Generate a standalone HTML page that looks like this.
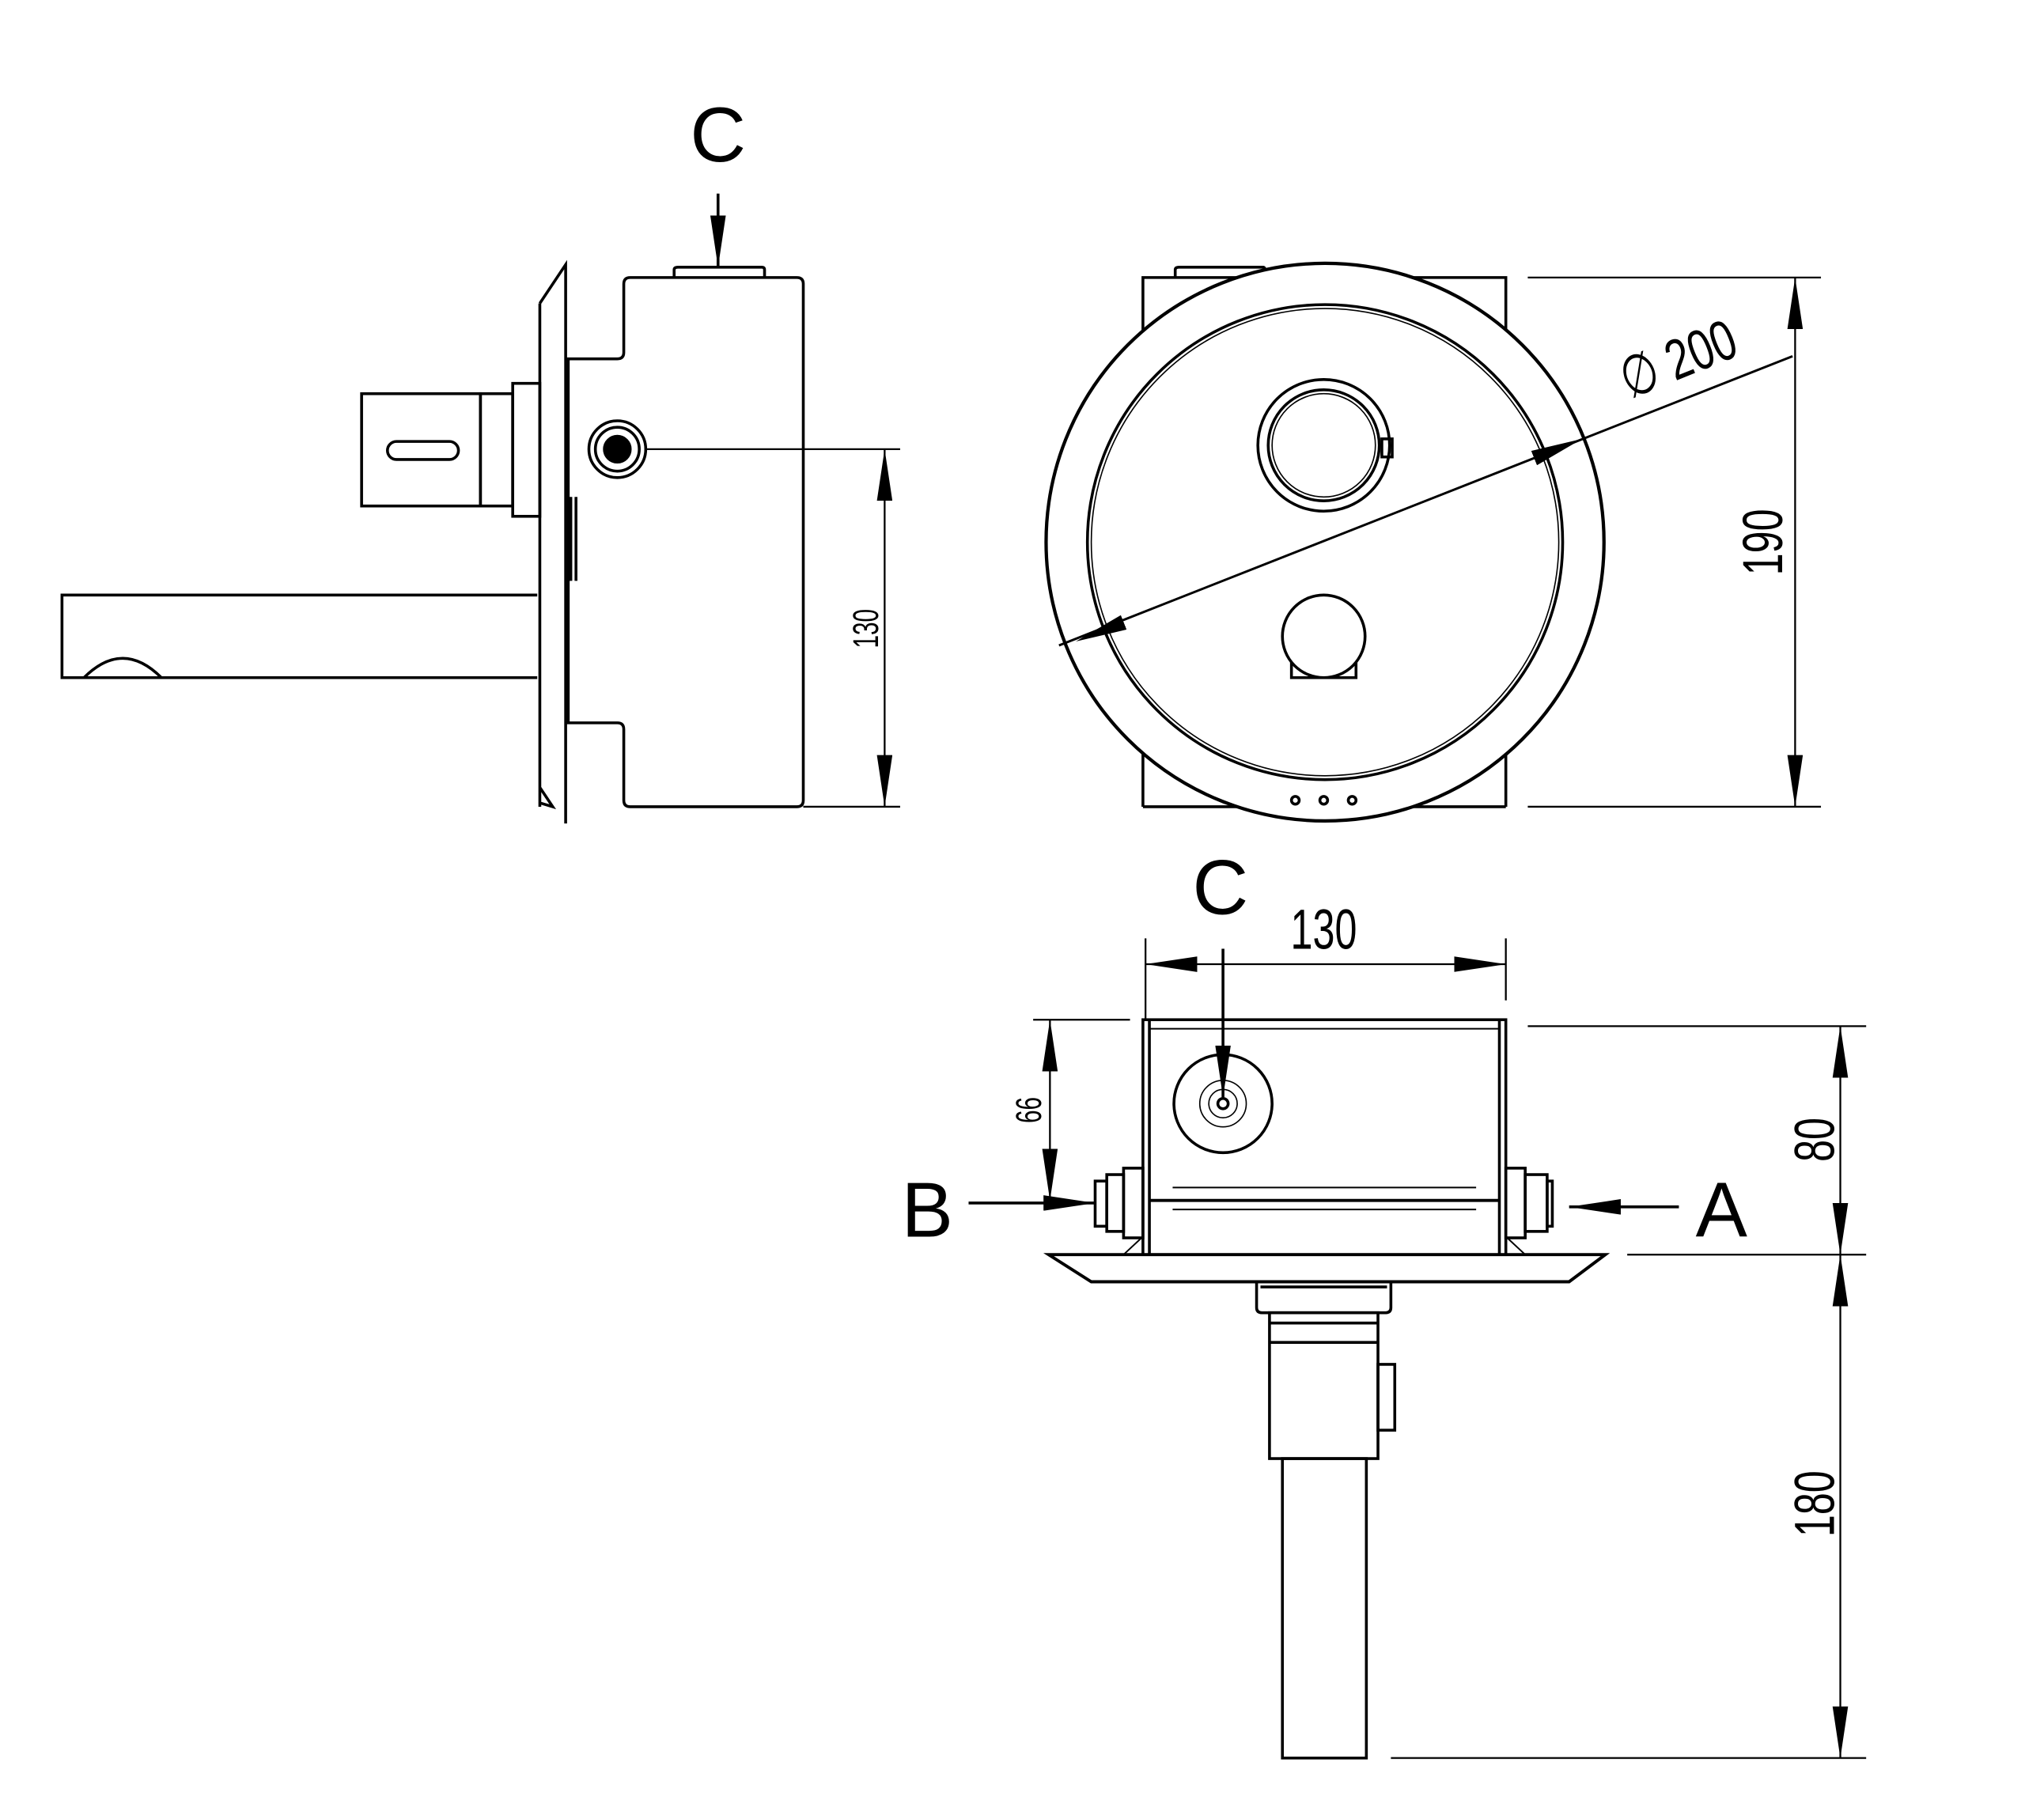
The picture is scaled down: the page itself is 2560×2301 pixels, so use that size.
<!DOCTYPE html>
<html><head><style>html,body{margin:0;padding:0;background:#fff}svg{display:block}</style></head>
<body>
<svg width="2560" height="2301" viewBox="0 0 1568 1410" preserveAspectRatio="none" xmlns="http://www.w3.org/2000/svg" fill="none" stroke="#000" stroke-width="2.2">
<defs>
<marker id="b" viewBox="0 0 40 12" refX="40" refY="6" markerWidth="40" markerHeight="12" markerUnits="userSpaceOnUse" orient="auto-start-reverse"><path d="M0,0 L40,6 L0,12z" fill="#000" stroke="none"/></marker>
</defs>
<!-- SIDE VIEW -->
<path d="M488,215 H617 Q622,215 622,220 V620 Q622,625 617,625 H488 Q483,625 483,620 V565 Q483,560 478,560 H440 V278 H478 Q483,278 483,273 V220 Q483,215 488,215Z"/>
<path d="M522,215 V209 Q522,207 525,207 H590 Q592,207 592,209 V215"/>
<path d="M418,235 L438,205 V638 M418,235 V625 M418,610 L428,625 L418,622"/>
<line x1="442" y1="385" x2="442" y2="450"/><line x1="446" y1="385" x2="446" y2="450"/>
<line x1="440" y1="560" x2="470" y2="560" stroke-width="1.2"/>
<circle cx="478" cy="348" r="22"/><circle cx="478" cy="348" r="17"/><circle cx="478" cy="348" r="10" fill="#000"/>
<rect x="280" y="305" width="92" height="87"/>
<rect x="372" y="305" width="25" height="87"/>
<rect x="397" y="297" width="21" height="103"/>
<rect x="300" y="342" width="55" height="14" rx="7"/>
<path d="M416,461 H48 V525 H416"/>
<path d="M65,525 Q95,495 125,525"/>
<line x1="500" y1="348" x2="697" y2="348" stroke-width="1.4"/>
<line x1="622" y1="625" x2="697" y2="625" stroke-width="1.4"/>
<line x1="685" y1="348" x2="685" y2="625" stroke-width="1.4" marker-start="url(#b)" marker-end="url(#b)"/>
<text transform="translate(680,487) rotate(-90) scale(0.65,1)" text-anchor="middle" font-family="Liberation Sans" font-size="28" fill="#000" stroke="none">130</text>
<text x="556" y="125" text-anchor="middle" font-family="Liberation Sans" font-size="60" fill="#000" stroke="none">C</text>
<line x1="556" y1="150" x2="556" y2="207" marker-end="url(#b)"/>
<!-- FRONT VIEW -->
<path d="M885,625 V215 H1166 V625"/>
<line x1="885" y1="625" x2="1166" y2="625"/>
<path d="M910,215 V209 Q910,207 913,207 H978 Q980,207 980,212"/>
<circle cx="1026" cy="420" r="216" fill="#fff" stroke-width="2.6"/>
<circle cx="1026" cy="420" r="184"/><circle cx="1026" cy="420" r="181" stroke-width="1"/>
<circle cx="1025" cy="345" r="51"/><circle cx="1025" cy="345" r="43"/><circle cx="1025" cy="345" r="40" stroke-width="1"/>
<rect x="1070" y="340" width="8" height="14"/>
<path d="M1000,510 V525 H1050 V510"/>
<circle cx="1025" cy="493" r="32" fill="#fff"/>
<circle cx="1003" cy="620" r="3"/><circle cx="1025" cy="620" r="3"/><circle cx="1047" cy="620" r="3"/>
<line x1="820" y1="500" x2="1388" y2="276" stroke-width="1.8"/>
<line x1="1225" y1="340" x2="833" y2="497" stroke-width="0" marker-start="url(#b)" marker-end="url(#b)"/>
<text transform="translate(1305,292) rotate(-22) scale(0.75,1)" text-anchor="middle" font-family="Liberation Sans" font-size="44" fill="#000" stroke="none">∅ 200</text>
<line x1="1183" y1="215" x2="1410" y2="215" stroke-width="1.4"/>
<line x1="1183" y1="625" x2="1410" y2="625" stroke-width="1.4"/>
<line x1="1390" y1="215" x2="1390" y2="625" stroke-width="1.4" marker-start="url(#b)" marker-end="url(#b)"/>
<text transform="translate(1380,420) rotate(-90) scale(0.7,1)" text-anchor="middle" font-family="Liberation Sans" font-size="44" fill="#000" stroke="none">190</text>
<!-- BOTTOM VIEW -->
<rect x="885" y="790" width="281" height="182"/>
<line x1="890" y1="790" x2="890" y2="972"/><line x1="1161" y1="790" x2="1161" y2="972"/>
<line x1="890" y1="797" x2="1161" y2="797" stroke-width="1.2"/>
<line x1="908" y1="920" x2="1143" y2="920" stroke-width="1.2"/>
<line x1="890" y1="930" x2="1161" y2="930" stroke-width="2.4"/>
<line x1="908" y1="937" x2="1143" y2="937" stroke-width="1.2"/>
<circle cx="947" cy="855" r="38"/><circle cx="947" cy="855" r="18" stroke-width="1"/><circle cx="947" cy="855" r="11" stroke-width="1"/><circle cx="947" cy="855" r="4"/>
<path d="M812,972 H1243 L1215,993 H845 Z" stroke-width="2.4"/>
<path d="M870,972 L885,958 M1166,958 L1181,972" stroke-width="1.2"/>
<rect x="857" y="910" width="13" height="44"/><rect x="870" y="905" width="15" height="54"/>
<rect x="848" y="915" width="9" height="35"/>
<rect x="1166" y="905" width="15" height="54"/><rect x="1181" y="910" width="17" height="44"/><rect x="1198" y="915" width="4" height="35"/>
<path d="M973,993 V1013 Q973,1017 977,1017 H1073 Q1077,1017 1077,1013 V993"/>
<line x1="976" y1="997" x2="1074" y2="997"/>
<rect x="983" y="1017" width="84" height="113"/>
<line x1="983" y1="1025" x2="1067" y2="1025"/><line x1="983" y1="1040" x2="1067" y2="1040"/>
<rect x="1067" y="1057" width="13" height="51"/>
<rect x="993" y="1130" width="65" height="232"/>
<line x1="887" y1="727" x2="887" y2="790" stroke-width="1.4"/>
<line x1="1166" y1="727" x2="1166" y2="775" stroke-width="1.4"/>
<line x1="887" y1="747" x2="1166" y2="747" stroke-width="1.4" marker-start="url(#b)" marker-end="url(#b)"/>
<text transform="translate(1025,735) scale(0.7,1)" text-anchor="middle" font-family="Liberation Sans" font-size="44" fill="#000" stroke="none">130</text>
<text x="945" y="708" text-anchor="middle" font-family="Liberation Sans" font-size="60" fill="#000" stroke="none">C</text>
<line x1="947" y1="735" x2="947" y2="850" marker-end="url(#b)"/>
<line x1="800" y1="790" x2="875" y2="790" stroke-width="1.4"/>
<line x1="813" y1="790" x2="813" y2="930" stroke-width="1.4" marker-start="url(#b)" marker-end="url(#b)"/>
<text transform="translate(806,860) rotate(-90) scale(0.65,1)" text-anchor="middle" font-family="Liberation Sans" font-size="28" fill="#000" stroke="none">66</text>
<line x1="1183" y1="795" x2="1445" y2="795" stroke-width="1.4"/>
<line x1="1260" y1="972" x2="1445" y2="972" stroke-width="1.4"/>
<line x1="1077" y1="1362" x2="1445" y2="1362" stroke-width="1.4"/>
<line x1="1425" y1="795" x2="1425" y2="972" stroke-width="1.4" marker-start="url(#b)" marker-end="url(#b)"/>
<line x1="1425" y1="972" x2="1425" y2="1362" stroke-width="1.4" marker-start="url(#b)" marker-end="url(#b)"/>
<text transform="translate(1420,883) rotate(-90) scale(0.7,1)" text-anchor="middle" font-family="Liberation Sans" font-size="44" fill="#000" stroke="none">80</text>
<text transform="translate(1420,1165) rotate(-90) scale(0.7,1)" text-anchor="middle" font-family="Liberation Sans" font-size="44" fill="#000" stroke="none">180</text>
<text x="718" y="958" text-anchor="middle" font-family="Liberation Sans" font-size="60" fill="#000" stroke="none">B</text>
<line x1="750" y1="932" x2="848" y2="932" marker-end="url(#b)"/>
<text x="1333" y="958" text-anchor="middle" font-family="Liberation Sans" font-size="60" fill="#000" stroke="none">A</text>
<line x1="1300" y1="935" x2="1215" y2="935" marker-end="url(#b)"/>
</svg>
</body></html>
